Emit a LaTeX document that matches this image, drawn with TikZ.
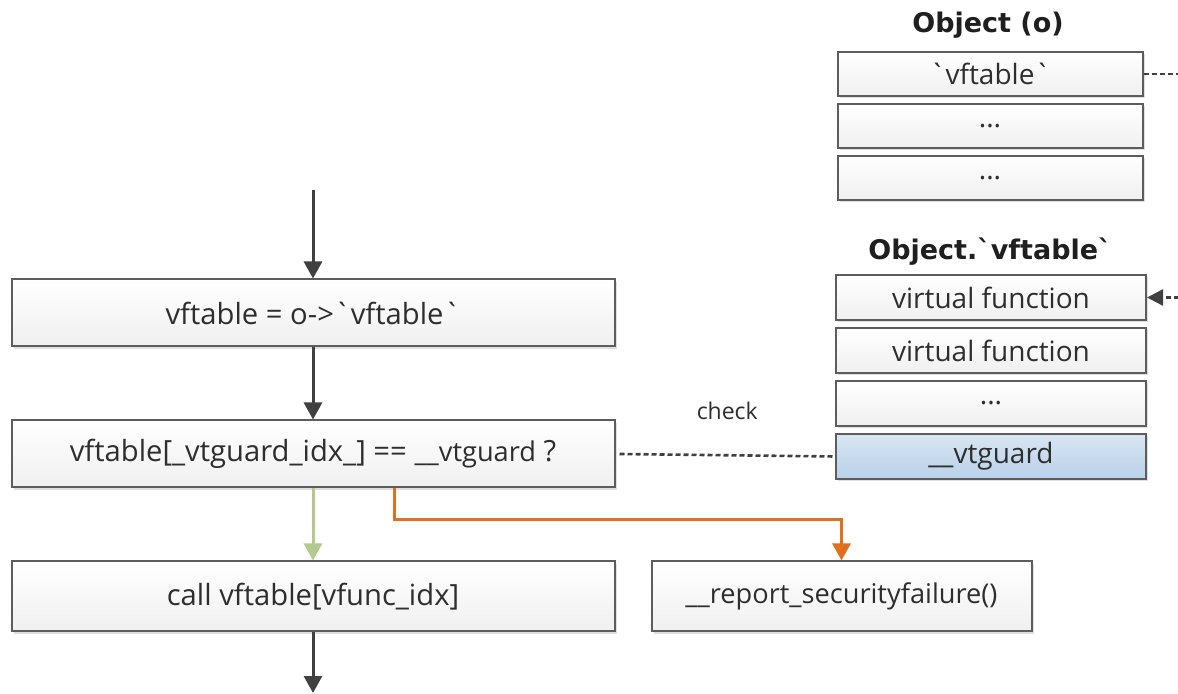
\documentclass[tikz,border=0pt]{standalone}
\usepackage{fontspec}
\setmainfont{Open Sans}
\newfontfamily\headfont{DejaVu Sans}
\usetikzlibrary{positioning,arrows.meta,shadows}

\definecolor{linegray}{HTML}{404040}
\definecolor{okgreen}{HTML}{B4C98C}
\definecolor{failorange}{HTML}{E0701E}
\definecolor{guardblue}{HTML}{B9D1E9}
\newcommand\bq{\textasciigrave}

\tikzset{
  box/.style={draw=linegray!85, line width=1pt, top color=white, bottom color=gray!12,
    minimum width=301.5pt, minimum height=33.5pt, align=center, text=black!82,
    font=\fontsize{14.6}{16}\selectfont,
    drop shadow={shadow xshift=1.2pt, shadow yshift=-1.2pt, opacity=0.25}},
  cell/.style={box, minimum width=152.5pt, minimum height=22pt, font=\fontsize{14}{16}\selectfont},
  vtcell/.style={cell, minimum width=155pt, minimum height=22.5pt},
  title/.style={font=\headfont\bfseries\fontsize{13.5}{15}\selectfont, text=black!88},
  flow/.style={line width=1.5pt, linegray, -{Triangle[width=9pt,length=8.5pt]}},
  refline/.style={line width=1.3pt, linegray, dash pattern=on 2.5pt off 1.5pt},
}

\begin{document}
\begin{tikzpicture}[x=0.5pt, y=-0.5pt, node distance=36pt]
  \useasboundingbox (0,0) rectangle (1178,694);
  \clip (0,0) rectangle (1178,694);

  % main flow
  \coordinate (in) at (313,190);
  \node[box] (load) at (313,313) {vftable = o->\bq vftable\bq};
  \node[box, below=of load] (guard)
    {vftable[\_vtguard\_idx\_] == {\fontsize{13.6}{15}\selectfont\_\_vtguard} ?};
  \node[box, below=of guard, minimum height=35pt] (call) {call vftable[vfunc\_idx]};
  \node[box, right=17.5pt of call, minimum width=190pt, minimum height=35pt] (fail)
    {\fontsize{13.6}{15}\selectfont\_\_report\_securityfailure()};
  \coordinate (out) at (313,693);

  % object layout
  \node[title] (objtitle) at (988,25) {Object (o)};
  \node[cell] (obj1) at (990,74) {\bq vftable\bq};
  \node[cell, below=3pt of obj1] (obj2) {...};
  \node[cell, below=3pt of obj2] (obj3) {...};

  % vftable layout
  \node[title] (vttitle) at (990,252) {Object.\bq vftable\bq};
  \node[vtcell] (vt1) at (991,297.5) {virtual function};
  \node[vtcell, below=3pt of vt1] (vt2) {virtual function};
  \node[vtcell, below=3pt of vt2] (vt3) {...};
  \node[vtcell, below=3pt of vt3, top color=guardblue!55!white, bottom color=guardblue] (vt4)
    {\_\_vtguard};

  % connectors
  \draw[flow] (in) -- (load);
  \draw[flow] (load) -- (guard);
  \draw[flow, okgreen] (guard) -- (call);
  \draw[flow, failorange] ([xshift=40.5pt]guard.south) -- ++(0,-15.5pt) -| (fail.north);
  \draw[flow] (call) -- (out);

  \draw[refline] ([xshift=2pt]guard.east) -- (vt4.west)
    node[midway, above=14pt, text=black!82, font=\fontsize{11.5}{13}\selectfont] (chk) {check};
  \draw[refline, -{Triangle[width=8pt,length=8pt]}] (obj1.east) -- ++(25pt,0) |- (vt1.east);
\end{tikzpicture}
\end{document}
